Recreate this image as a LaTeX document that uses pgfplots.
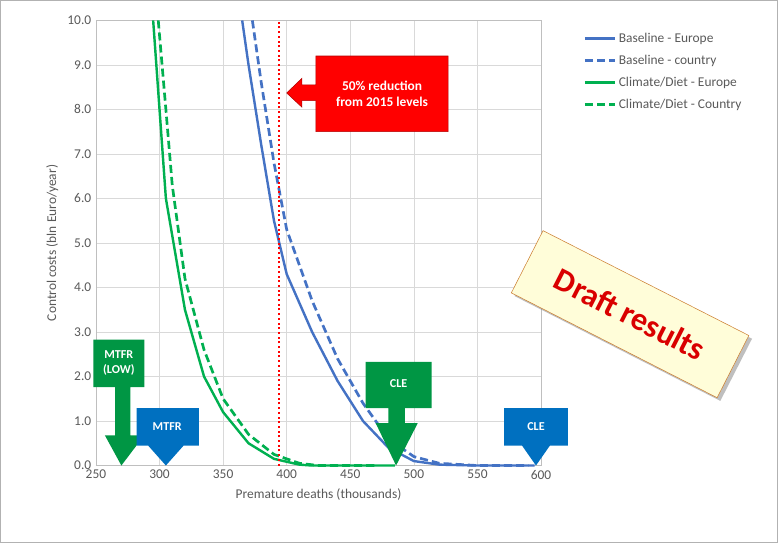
\documentclass[border=0pt]{standalone}
\usepackage{pgfplots}
\pgfplotsset{compat=1.18}
\usepackage{fontspec}
\setmainfont{Carlito}
\usetikzlibrary{shadows}
\definecolor{bblue}{HTML}{4472C4}
\definecolor{ggreen}{HTML}{00B050}
\definecolor{cblue}{HTML}{0070C0}
\definecolor{txt}{HTML}{595959}
\begin{document}
\begin{tikzpicture}
\draw[gray!60] (-71.25pt,-57pt) rectangle (507.75pt,346.5pt);
\begin{axis}[scale only axis, width=331.5pt, height=331.5pt,
 xmin=250, xmax=600, ymin=0, ymax=10,
 xtick={250,300,...,600}, ytick={0,1,...,10},
 yticklabel style={/pgf/number format/.cd,fixed,fixed zerofill,precision=1},
 /pgf/number format/assume math mode=true,
 grid=major, grid style={gray!30},
 axis line style={gray!50}, tick style={draw=none},
 ticklabel style={font=\normalsize, text=txt},
 xlabel={Premature deaths (thousands)}, ylabel={Control costs (bln Euro/year)},
 label style={font=\normalsize, text=txt},
 clip=false,
 legend style={at={(1.086,0.985)}, anchor=north west, draw=none, fill=none, font=\normalsize, text=txt, row sep=4pt},
 legend cell align=left, legend image post style={xscale=1.3},
]
\addplot[bblue, line width=1.8pt] coordinates {(365,10)(370,9)(380,7.2)(390,5.5)(400,4.3)(420,3.0)(440,1.9)(460,1.0)(480,0.4)(500,0.1)(520,0.02)(550,0)(595,0)};
\addlegendentry{Baseline - Europe}
\addplot[bblue, line width=2pt, dash pattern=on 6pt off 3pt] coordinates {(373,10)(380,8.6)(390,6.8)(400,5.3)(420,3.7)(440,2.4)(460,1.4)(480,0.6)(500,0.2)(520,0.05)(550,0)(590,0)};
\addlegendentry{Baseline - country}
\addplot[ggreen, line width=1.8pt] coordinates {(295,10)(300,8)(305,6)(320,3.5)(335,2.0)(350,1.2)(370,0.5)(390,0.15)(410,0.02)(420,0)(485,0)};
\addlegendentry{Climate/Diet - Europe}
\addplot[ggreen, line width=2pt, dash pattern=on 6pt off 3pt] coordinates {(299,10)(305,8)(310,6.3)(320,4.2)(335,2.6)(350,1.5)(370,0.7)(390,0.25)(410,0.05)(425,0)(470,0)};
\addlegendentry{Climate/Diet - Country}
\draw[red, line width=1.5pt, dotted] (axis cs:394,0) -- (axis cs:394,10);
\fill[red, draw=red!70!black] (axis cs:423,9.2) -- (axis cs:527,9.2) -- (axis cs:527,7.5) -- (axis cs:423,7.5) -- (axis cs:423,8.2) -- (axis cs:412,8.2) -- (axis cs:412,8.05) -- (axis cs:400,8.37) -- (axis cs:412,8.7) -- (axis cs:412,8.55) -- (axis cs:423,8.55) -- cycle;
\node[white, font=\normalsize\bfseries, align=center] at (axis cs:475,8.35) {50\% reduction\\from 2015 levels};
\fill[ggreen!85!black] (axis cs:248,2.83) -- (axis cs:288,2.83) -- (axis cs:288,1.76) -- (axis cs:277,1.76) -- (axis cs:277,0.68) -- (axis cs:288,0.68) -- (axis cs:270,0) -- (axis cs:257,0.68) -- (axis cs:265,0.68) -- (axis cs:265,1.76) -- (axis cs:248,1.76) -- cycle;
\node[white, font=\small\bfseries, align=center] at (axis cs:268,2.3) {MTFR\\(LOW)};
\fill[cblue] (axis cs:282,1.29) -- (axis cs:331,1.29) -- (axis cs:331,0.45) -- (axis cs:319,0.45) -- (axis cs:305,0) -- (axis cs:291,0.45) -- (axis cs:282,0.45) -- cycle;
\node[white, font=\small\bfseries] at (axis cs:306,0.87) {MTFR};
\fill[ggreen!85!black] (axis cs:462,2.33) -- (axis cs:514,2.33) -- (axis cs:514,1.29) -- (axis cs:493,1.29) -- (axis cs:493,0.95) -- (axis cs:503,0.95) -- (axis cs:486,0) -- (axis cs:470,0.95) -- (axis cs:480,0.95) -- (axis cs:480,1.29) -- (axis cs:462,1.29) -- cycle;
\node[white, font=\small\bfseries] at (axis cs:488,1.85) {CLE};
\fill[cblue] (axis cs:571,1.29) -- (axis cs:621,1.29) -- (axis cs:621,0.45) -- (axis cs:607,0.45) -- (axis cs:596,0) -- (axis cs:585,0.45) -- (axis cs:571,0.45) -- cycle;
\node[white, font=\small\bfseries] at (axis cs:596,0.87) {CLE};
\node[rotate=-27, draw=orange!60!gray, fill=yellow!15, drop shadow, minimum width=172pt, minimum height=52pt, text=red!85!black, font=\fontsize{24}{28}\selectfont\bfseries] at (axis cs:670,3.4) {Draft results};
\end{axis}
\end{tikzpicture}
\end{document}
